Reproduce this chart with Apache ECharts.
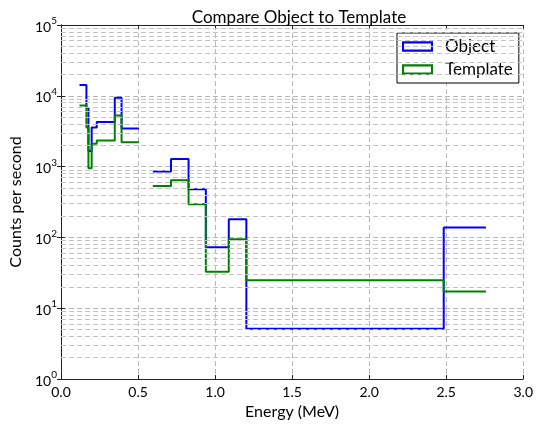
<!DOCTYPE html>
<html>
<head>
<meta charset="utf-8">
<script src="https://cdn.jsdelivr.net/npm/echarts@6/dist/echarts.min.js"></script>
<style>html,body{margin:0;padding:0;background:#fff}#c{width:536px;height:425px}</style>
</head>
<body>
<div id="c"></div>
<script>
// Bin edges (MeV) of the two spectral regions
const lowEdges  = [0.12, 0.165, 0.178, 0.199, 0.232, 0.349, 0.393, 0.506];
const highEdges = [0.596, 0.714, 0.828, 0.940, 1.089, 1.203, 2.484, 2.758];
// Counts per second in each bin
const objectLow    = [14200, 6700, 1660, 3560, 4250, 9400, 3450];
const templateLow  = [7300, 3560, 950, 2100, 2340, 5270, 2210];
const objectHigh   = [853, 1280, 477, 72.3, 180, 5.13, 138];
const templateHigh = [530, 641, 293, 32.7, 94.5, 24.9, 17.2];
const xTicks = [0, 0.5, 1.0, 1.5, 2.0, 2.5, 3.0];
const seriesNames = ['Object', 'Template'];

function stepData(edges, vals) {
  const out = vals.map((v, i) => [edges[i], v]);
  out.push([edges[edges.length - 1], vals[vals.length - 1]]);
  return out;
}
function joined(e1, v1, e2, v2) {
  return stepData(e1, v1).concat([[null, null]]).concat(stepData(e2, v2));
}
const minorVals = [];
for (let n = 0; n < 5; n++) for (let k = 2; k <= 9; k++) minorVals.push(k * Math.pow(10, n));

const FONT = 'Lato';
const FRAME_ICON = 'path://M0,0 L30,0 L30,10 L0,10 Z M2,2 L2,8 L28,8 L28,2 Z';
const chart = echarts.init(document.getElementById('c'), null, {renderer: 'canvas'});
chart.setOption({
  animation: false,
  textStyle: {fontFamily: FONT},
  title: {
    text: 'Compare Object to Template', left: 294, top: 4, textAlign: 'center',
    textStyle: {fontFamily: FONT, fontSize: 17, fontWeight: 'normal', color: '#000'}
  },
  grid: {left: 61, right: 9, top: 25, bottom: 38, show: false},
  legend: {
    data: [
      {name: 'Object', icon: FRAME_ICON, itemStyle: {color: '#0000ff', borderWidth: 0}},
      {name: 'Template', icon: FRAME_ICON, itemStyle: {color: '#008000', borderWidth: 0}}
    ],
    orient: 'vertical', left: 397, top: 33, itemWidth: 31, itemHeight: 11, itemGap: 6,
    padding: [5, 6, 5, 5], backgroundColor: '#fff', borderColor: '#000', borderWidth: 1,
    textStyle: {fontFamily: FONT, fontSize: 17, color: '#000', lineHeight: 14, padding: [0, 0, 0, 7]}
  },
  xAxis: [{
    type: 'value', min: 0, max: 3, interval: 0.5,
    name: 'Energy (MeV)', nameLocation: 'middle', nameGap: 25,
    nameTextStyle: {fontFamily: FONT, fontSize: 16, color: '#000'},
    axisLine: {onZero: false, lineStyle: {color: '#222', width: 1}},
    axisTick: {inside: true, length: 4, lineStyle: {color: '#222'}},
    axisLabel: {fontFamily: FONT, fontSize: 14, color: '#000', margin: 6,
      formatter: v => v.toFixed(1)},
    splitLine: {show: true, lineStyle: {color: '#b8b8b8', type: [5, 3], width: 1}}
  }, {
    type: 'value', min: 0, max: 3, interval: 0.5, position: 'top',
    axisLine: {lineStyle: {color: '#222', width: 1}},
    axisTick: {inside: true, length: 4, lineStyle: {color: '#222'}},
    axisLabel: {show: false}, splitLine: {show: false}
  }],
  yAxis: [{
    type: 'log', logBase: 10, min: 1, max: 100000,
    name: 'Counts per second', nameLocation: 'middle', nameGap: 34,
    nameTextStyle: {fontFamily: FONT, fontSize: 16, color: '#000'},
    axisLine: {lineStyle: {color: '#222', width: 1}},
    axisTick: {inside: true, length: 4, lineStyle: {color: '#222'}},
    axisLabel: {fontFamily: FONT, color: '#000', margin: 4,
      formatter: v => '{b|10}{s|' + Math.round(Math.log10(v)) + '}',
      rich: {
        b: {fontFamily: FONT, fontSize: 14, color: '#000', verticalAlign: 'bottom'},
        s: {fontFamily: FONT, fontSize: 10, color: '#000', verticalAlign: 'top', padding: [0, 0, 8, 0]}
      }},
    splitLine: {show: true, lineStyle: {color: '#b8b8b8', type: [5, 3], width: 1}}
  }, {
    type: 'log', logBase: 10, min: 1, max: 100000, position: 'right',
    axisLine: {lineStyle: {color: '#222', width: 1}},
    axisTick: {inside: true, length: 4, lineStyle: {color: '#222'}},
    axisLabel: {show: false}, splitLine: {show: false}
  }],
  series: [
    {
      name: 'grid', type: 'line', data: [], silent: true, z: 1,
      markLine: {
        silent: true, symbol: 'none', label: {show: false}, animation: false,
        lineStyle: {color: '#c4c4c4', type: [5, 3], width: 1},
        data: minorVals.map(v => ({yAxis: v}))
      }
    },
    {
      name: seriesNames[0], type: 'line', step: 'end', showSymbol: false, z: 3,
      connectNulls: false,
      lineStyle: {color: '#0000ff', width: 2}, itemStyle: {color: '#0000ff'},
      data: joined(lowEdges, objectLow, highEdges, objectHigh)
    },
    {
      name: seriesNames[1], type: 'line', step: 'end', showSymbol: false, z: 4,
      connectNulls: false,
      lineStyle: {color: '#008000', width: 2}, itemStyle: {color: '#008000'},
      data: joined(lowEdges, templateLow, highEdges, templateHigh)
    }
  ]
});
</script>
</body>
</html>
